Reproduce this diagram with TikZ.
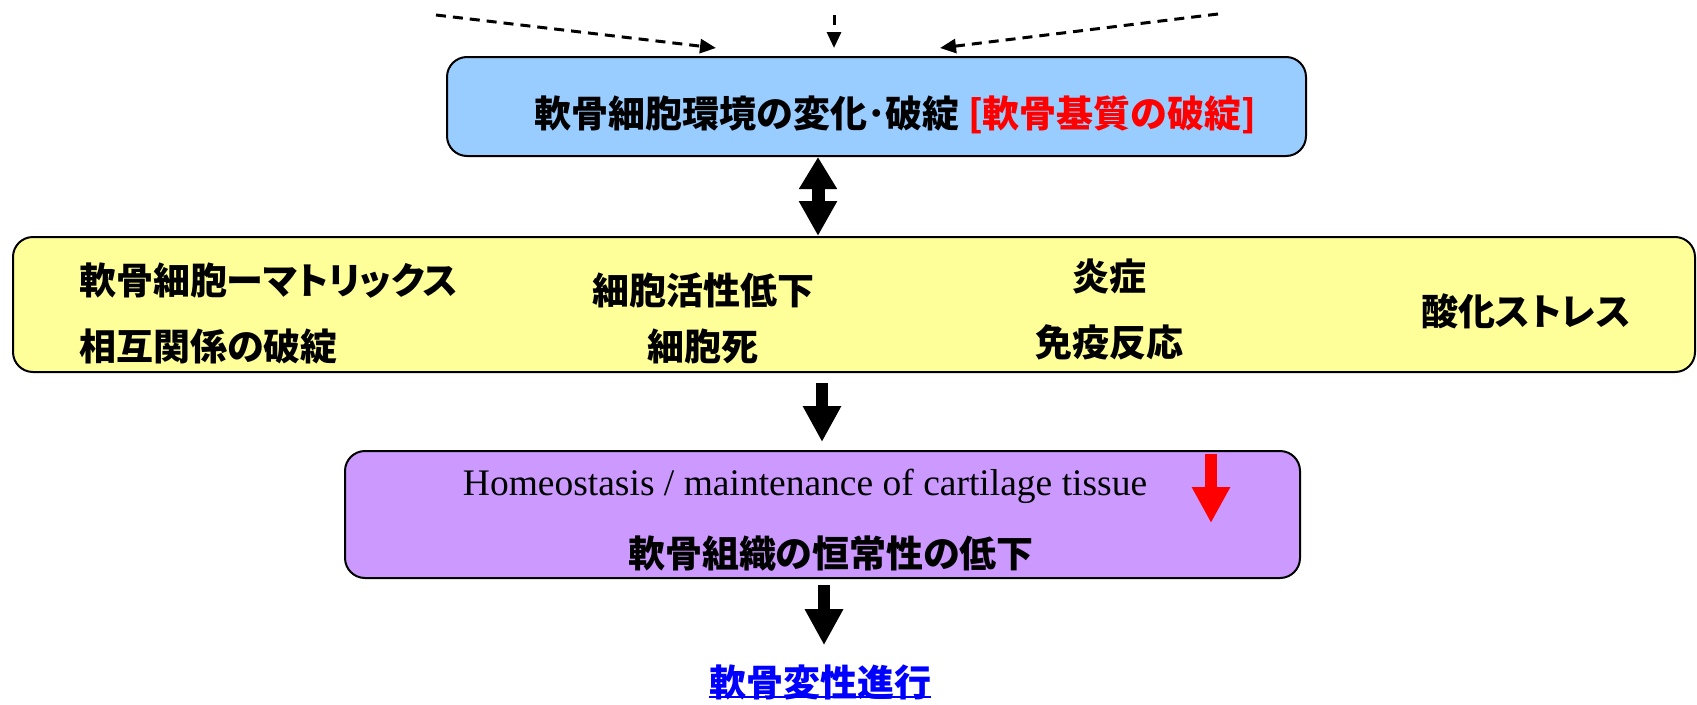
\documentclass[tikz,border=0pt]{standalone}
\usepackage{fontspec}
\setmainfont{Liberation Serif}
\newfontfamily\jp{Noto Sans CJK JP}[RawFeature={+palt}]
\usetikzlibrary{arrows.meta,calc}
\definecolor{boxblue}{HTML}{99CCFF}
\definecolor{boxyellow}{HTML}{FFFF99}
\definecolor{boxpurple}{HTML}{CC99FF}
\definecolor{linkblue}{HTML}{0000FF}
\definecolor{alertred}{HTML}{FF0000}
\begin{document}
\begin{tikzpicture}[x=1pt,y=-1pt,
  box/.style={draw=black, line width=2pt, rounded corners=20pt, inner sep=0pt},
  jtext/.style={font=\jp\bfseries\fontsize{37}{42}\selectfont, inner sep=0pt, anchor=center},
  etext/.style={font=\fontsize{37.5}{42}\selectfont, inner sep=0pt, anchor=base},
  dasharrow/.style={line width=3pt, dash pattern=on 10pt off 7pt, -{Triangle[length=16pt,width=14pt]}},
  blockarrow/.style={line width=12pt, -{Triangle[length=36pt,width=36pt]}},
  dblarrow/.style={line width=13pt, {Triangle[length=32pt,width=36pt]}-{Triangle[length=35pt,width=36pt]}}
]
\useasboundingbox (0,0) rectangle (1697,704);

% boxes
\node[box, fill=boxblue, minimum width=859pt, minimum height=99pt] (topbox) at (876.5,106.5) {};
\node[box, fill=boxyellow, minimum width=1682pt, minimum height=135pt] (midbox) at (854,304.5) {};
\node[box, fill=boxpurple, minimum width=955pt, minimum height=127pt] (lowbox) at (822.5,514.5) {};

% texts
\node[jtext] (toptext) at (895.5,114.5) {軟骨細胞環境の変化･破綻 \textcolor{alertred}{[軟骨基質の破綻]}};

\node[jtext, anchor=west] (m1a) at (79,281) {軟骨細胞ーマトリックス};
\node[jtext, anchor=west] (m1b) at (79,346) {相互関係の破綻};
\node[jtext] (m2a) at (703,290) {細胞活性低下};
\node[jtext] (m2b) at (703,346) {細胞死};
\node[jtext] (m3a) at (1109,276) {炎症};
\node[jtext] (m3b) at (1109,342) {免疫反応};
\node[jtext] (m4) at (1526,311) {酸化ストレス};

\node[etext] (homeo) at (805,495) {Homeostasis / maintenance of cartilage tissue};
\node[jtext] (lowtext) at (831,554) {軟骨組織の恒常性の低下};

\node[jtext, text=linkblue] (final) at (820,682) {軟骨変性進行};
\draw[linkblue, line width=2.5pt] ([yshift=3pt]final.south west) -- ([yshift=3pt]final.south east);

% dashed incoming arrows
\coordinate (d1s) at (436,15);
\coordinate (d1e) at (716,48);
\coordinate (d2s) at (834,15);
\coordinate (d2e) at (834,48);
\coordinate (d3s) at (1218,14);
\coordinate (d3e) at (940,48);
\draw[dasharrow] (d1s) -- (d1e);
\draw[dasharrow] (d2s) -- (d2e);
\draw[dasharrow] (d3s) -- (d3e);

% block arrows
\coordinate (ax0) at (818,0);
\coordinate (ax1) at (822,0);
\coordinate (ax2) at (824,0);
\draw[dblarrow] (topbox.south -| ax0) -- (midbox.north -| ax0);
\draw[blockarrow, shorten <=10pt, shorten >=8pt] (midbox.south -| ax1) -- (lowbox.north -| ax1);
\draw[blockarrow, shorten <=6pt, shorten >=19pt] (lowbox.south -| ax2) -- (final.north -| ax2);

% red down arrow
\coordinate (rs) at (1211,454);
\coordinate (re) at (1211,523);
\draw[blockarrow, alertred] (rs) -- (re);
\end{tikzpicture}
\end{document}
